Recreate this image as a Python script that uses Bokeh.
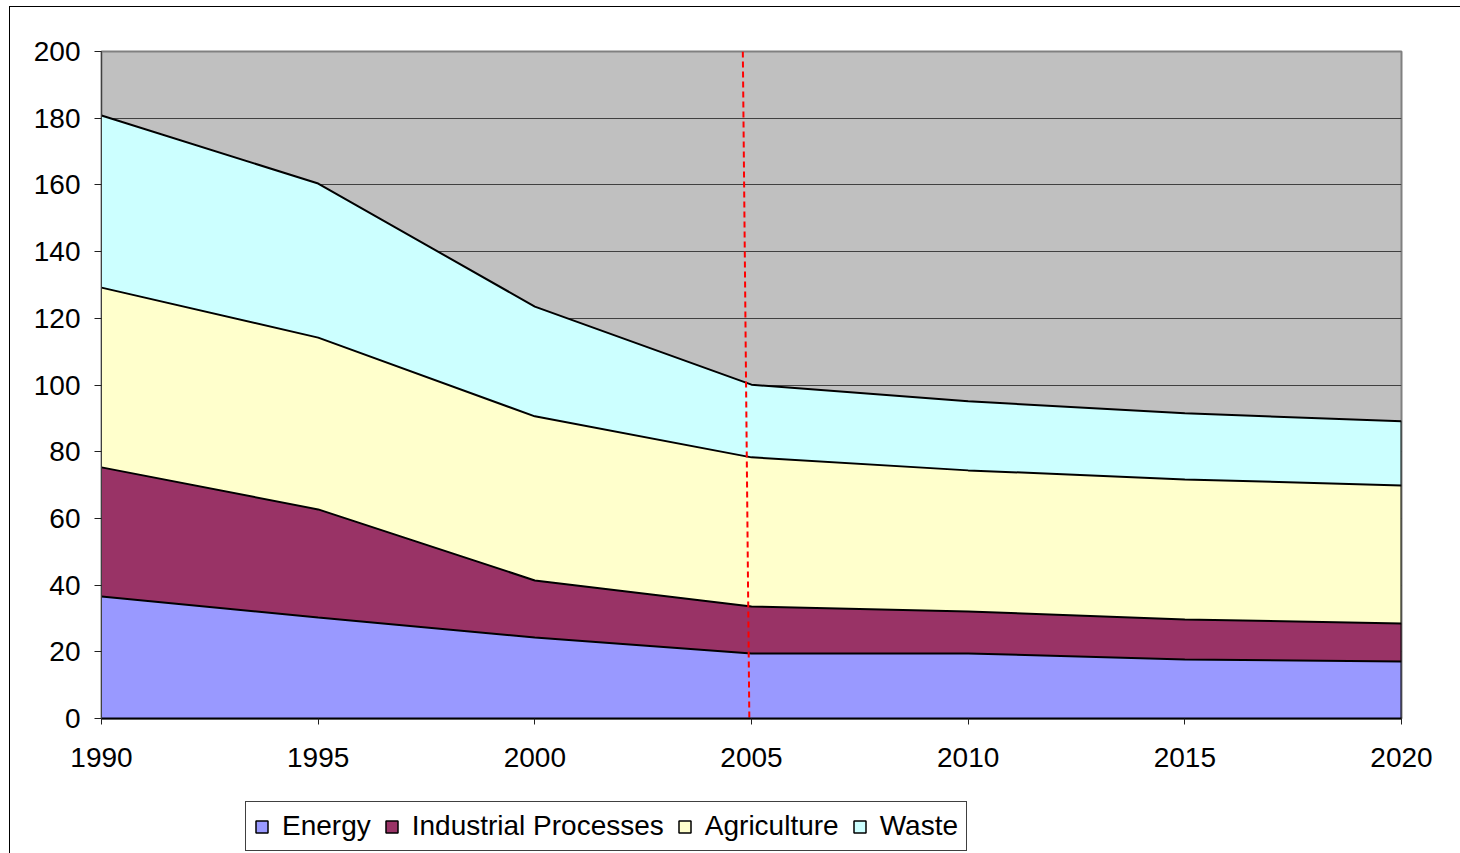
import numpy as np
from bokeh.plotting import figure
from bokeh.layouts import column
from bokeh.models import Range1d, FixedTicker, Legend, LegendItem, ColumnDataSource
from bokeh.embed import file_html
from bokeh.resources import INLINE

# ---- data ----
years = [1990, 1995, 2000, 2005, 2010, 2015, 2020]
energy = [36.6, 30.3, 24.3, 19.5, 19.5, 17.7, 17.1]
industrial = [38.7, 32.4, 17.1, 14.1, 12.6, 12.0, 11.4]
agriculture = [53.9, 51.5, 49.2, 44.7, 42.3, 42.0, 41.4]
waste = [51.6, 46.2, 32.9, 21.8, 20.7, 19.8, 19.2]
series_names = ["Energy", "Industrial Processes", "Agriculture", "Waste"]
series_colors = ["#9999FF", "#993366", "#FFFFCC", "#CCFFFF"]
y_ticks = [0, 20, 40, 60, 80, 100, 120, 140, 160, 180, 200]
x_ticks = [1990, 1995, 2000, 2005, 2010, 2015, 2020]
marker_x = [2004.8, 2004.95]   # top, bottom of the red dashed marker line
marker_y = [200, 0]

FONT = "Liberation Sans"

src = ColumnDataSource(dict(x=years, energy=energy, industrial=industrial,
                            agriculture=agriculture, waste=waste))
keys = ["energy", "industrial", "agriculture", "waste"]

p = figure(width=1450, height=786, x_range=Range1d(1990, 2020), y_range=Range1d(0, 200),
           output_backend="svg", toolbar_location=None,
           min_border_left=91, min_border_top=44, min_border_right=59, min_border_bottom=75)

p.background_fill_color = "#C0C0C0"
p.border_fill_color = "white"
p.outline_line_color = "#808080"
p.outline_line_width = 2

p.xgrid.grid_line_color = None
p.ygrid.grid_line_color = "#404040"
p.ygrid.grid_line_width = 1
p.ygrid.ticker = FixedTicker(ticks=y_ticks)

p.varea_stack(stackers=keys, x="x", color=series_colors, source=src)

cum = np.cumsum(np.array([energy, industrial, agriculture, waste]), axis=0)
for row in cum:
    p.line(years, list(row), line_color="black", line_width=2)
p.segment(x0=[years[-1]], y0=[0], x1=[years[-1]], y1=[float(cum[-1][-1])],
          line_color="black", line_width=2)

p.line(marker_x, marker_y, line_color="#FF0000", line_width=2, line_dash="6 4")

# axes
p.xaxis.ticker = FixedTicker(ticks=x_ticks)
p.yaxis.ticker = FixedTicker(ticks=y_ticks)
for ax in (p.xaxis[0], p.yaxis[0]):
    ax.major_label_text_font = FONT
    ax.major_label_text_font_size = "28px"
    ax.major_label_text_color = "black"
    ax.minor_tick_line_color = None
    ax.major_tick_in = 0
    ax.major_tick_line_color = "#202020"
p.xaxis.major_tick_out = 6
p.xaxis.major_label_standoff = 23
p.xaxis.axis_line_color = "black"
p.xaxis.axis_line_width = 2
p.yaxis.major_tick_out = 7
p.yaxis.major_label_standoff = 14
p.yaxis.axis_line_color = "#404040"
p.yaxis.axis_line_width = 1

# legend holder figure
pl = figure(width=1450, height=60, output_backend="svg", toolbar_location=None,
            x_axis_type=None, y_axis_type=None, min_border=0,
            x_range=Range1d(0, 1), y_range=Range1d(0, 1))
pl.outline_line_color = None
pl.xgrid.grid_line_color = None
pl.ygrid.grid_line_color = None
pl.background_fill_color = "white"
pl.border_fill_color = "white"

items = []
for name, c in zip(series_names, series_colors):
    r = pl.quad(left=[-10], right=[-9], bottom=[-10], top=[-9], fill_color=c,
                line_color="black", line_width=1.5)
    items.append(LegendItem(label=name, renderers=[r]))
legend = Legend(items=items, location=(144, 2), orientation="horizontal",
                label_text_font=FONT, label_text_font_size="28px", label_text_color="black",
                glyph_width=15, glyph_height=15, label_standoff=13, spacing=13,
                padding=8, margin=0, border_line_color="#404040", border_line_width=1.5,
                border_line_alpha=1,
                background_fill_color="white", background_fill_alpha=1)
pl.add_layout(legend, "center")

layout = column(p, pl, spacing=0)
layout.styles = {"border-top": "1px solid #000", "border-left": "1px solid #000",
                 "margin-left": "9px", "margin-top": "6px"}

open("out.html", "w").write(file_html(layout, INLINE))
